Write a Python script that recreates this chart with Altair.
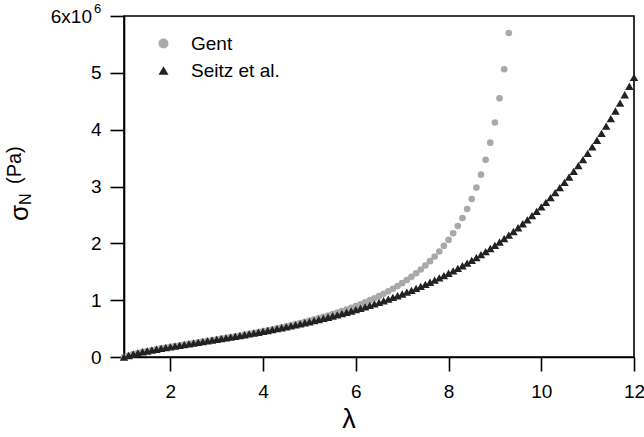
import altair as alt
import pandas as pd

# stretch ratio lambda (shared grid)
LAMBDA = [1.0, 1.1, 1.2, 1.3, 1.4, 1.5, 1.6, 1.7, 1.8, 1.9,
          2.0, 2.1, 2.2, 2.3, 2.4, 2.5, 2.6, 2.7, 2.8, 2.9,
          3.0, 3.1, 3.2, 3.3, 3.4, 3.5, 3.6, 3.7, 3.8, 3.9,
          4.0, 4.1, 4.2, 4.3, 4.4, 4.5, 4.6, 4.7, 4.8, 4.9,
          5.0, 5.1, 5.2, 5.3, 5.4, 5.5, 5.6, 5.7, 5.8, 5.9,
          6.0, 6.1, 6.2, 6.3, 6.4, 6.5, 6.6, 6.7, 6.8, 6.9,
          7.0, 7.1, 7.2, 7.3, 7.4, 7.5, 7.6, 7.7, 7.8, 7.9,
          8.0, 8.1, 8.2, 8.3, 8.4, 8.5, 8.6, 8.7, 8.8, 8.9,
          9.0, 9.1, 9.2, 9.3, 9.4, 9.5, 9.6, 9.7, 9.8, 9.9,
          10.0, 10.1, 10.2, 10.3, 10.4, 10.5, 10.6, 10.7, 10.8, 10.9,
          11.0, 11.1, 11.2, 11.3, 11.4, 11.5, 11.6, 11.7, 11.8, 11.9,
          12.0]

# nominal stress, units of 1e6 Pa (Gent series stops at lambda = 9.3)
GENT = [0.000, 0.027, 0.051, 0.071, 0.089, 0.106, 0.122, 0.137, 0.151, 0.165,
        0.179, 0.192, 0.205, 0.218, 0.231, 0.244, 0.257, 0.270, 0.283, 0.296,
        0.310, 0.323, 0.337, 0.351, 0.365, 0.379, 0.394, 0.409, 0.424, 0.439,
        0.455, 0.471, 0.488, 0.505, 0.523, 0.541, 0.559, 0.578, 0.598, 0.618,
        0.639, 0.661, 0.683, 0.706, 0.730, 0.755, 0.781, 0.808, 0.836, 0.865,
        0.896, 0.928, 0.961, 0.996, 1.033, 1.071, 1.112, 1.155, 1.200, 1.248,
        1.299, 1.354, 1.411, 1.473, 1.539, 1.610, 1.686, 1.768, 1.857, 1.955,
        2.060, 2.177, 2.305, 2.446, 2.604, 2.781, 2.981, 3.208, 3.469, 3.771,
        4.127, 4.551, 5.064, 5.700]

SEITZ = [0.000, 0.027, 0.051, 0.071, 0.089, 0.106, 0.122, 0.137, 0.151, 0.165,
         0.179, 0.192, 0.205, 0.218, 0.231, 0.244, 0.257, 0.270, 0.283, 0.296,
         0.309, 0.322, 0.336, 0.349, 0.363, 0.377, 0.391, 0.406, 0.420, 0.435,
         0.451, 0.466, 0.482, 0.498, 0.514, 0.531, 0.548, 0.566, 0.584, 0.602,
         0.621, 0.640, 0.659, 0.679, 0.700, 0.721, 0.742, 0.764, 0.787, 0.810,
         0.833, 0.858, 0.883, 0.908, 0.935, 0.962, 0.990, 1.018, 1.048, 1.078,
         1.109, 1.141, 1.173, 1.207, 1.242, 1.278, 1.315, 1.352, 1.392, 1.432,
         1.473, 1.516, 1.560, 1.605, 1.652, 1.700, 1.750, 1.801, 1.854, 1.909,
         1.965, 2.023, 2.083, 2.145, 2.209, 2.275, 2.344, 2.414, 2.487, 2.563,
         2.641, 2.721, 2.804, 2.891, 2.980, 3.072, 3.167, 3.266, 3.368, 3.474,
         3.584, 3.697, 3.814, 3.936, 4.062, 4.193, 4.328, 4.468, 4.614, 4.764,
         4.921]

SERIES = ["Gent", "Seitz et al."]
COLORS = ["#a9a9a9", "#222222"]
SHAPES = ["circle", "triangle-up"]
SIZES = [44, 72]
X_TICKS = [2, 4, 6, 8, 10, 12]
Y_TICKS = [0, 1, 2, 3, 4, 5, 6]

df_g = pd.DataFrame({"series": SERIES[0], "lam": LAMBDA[:len(GENT)], "sigma": GENT})
df_s = pd.DataFrame({"series": SERIES[1], "lam": LAMBDA, "sigma": SEITZ})

W, H = 510, 341
FONT = "Liberation Sans"

legend = alt.Legend(orient="none", legendX=30, legendY=18, title=None,
                    labelFont=FONT, labelFontSize=19, labelColor="black",
                    symbolSize=100, symbolStrokeWidth=0, padding=0,
                    rowPadding=7, labelOffset=18)

x_enc = alt.X("lam:Q", scale=alt.Scale(domain=[1, 12], nice=False, zero=False),
              axis=alt.Axis(values=X_TICKS, title=None, labelFlush=False,
                            labelOverlap=False, labelPadding=11))
y_enc = alt.Y("sigma:Q", scale=alt.Scale(domain=[0, 6], nice=False),
              axis=alt.Axis(values=Y_TICKS, title=None, labelPadding=9,
                            labelExpr="datum.value == 6 ? '' : datum.label"))
c_enc = alt.Color("series:N", scale=alt.Scale(domain=SERIES, range=COLORS), legend=legend)
s_enc = alt.Shape("series:N", scale=alt.Scale(domain=SERIES, range=SHAPES), legend=legend)

gent = alt.Chart(df_g).mark_point(filled=True, opacity=1, strokeWidth=0, size=SIZES[0]).encode(
    x=x_enc, y=y_enc, color=c_enc, shape=s_enc)
seitz = alt.Chart(df_s).mark_point(filled=True, opacity=1, strokeWidth=0, size=SIZES[1]).encode(
    x=x_enc, y=y_enc, color=c_enc, shape=s_enc)

one = pd.DataFrame({"a": [0]})

def label(text, x, y, size, **kw):
    return alt.Chart(one).mark_text(text=text, font=FONT, fontSize=size, color="black", **kw).encode(
        x=alt.value(x), y=alt.value(y))

top_lab = label("6x10", -32, 1, 19, align="right", baseline="middle")
top_sup = label("6", -30, -7, 13, align="left", baseline="middle")
sig = label("σ", -96, 205, 26, align="left", baseline="alphabetic", angle=270)
sub = label("N", -93, 189, 16, align="left", baseline="alphabetic", angle=270)
pa = label("(Pa)", -103, 168, 20, align="left", baseline="alphabetic", angle=270)
lam = label("λ", 225, 412, 27, align="center", baseline="alphabetic")

chart = alt.layer(gent, seitz, top_lab, top_sup, sig, sub, pa, lam).properties(
    width=W, height=H,
    autosize=alt.AutoSizeParams(type="none"),
    padding={"left": 124, "top": 16, "right": 10, "bottom": 80},
).configure_view(stroke="black", strokeWidth=1.6).configure_axis(
    labelFont=FONT, labelFontSize=19, labelColor="black",
    tickColor="black", domainColor="black", tickWidth=1.6, domainWidth=1.6,
    tickSize=14, grid=False,
)

chart.save("out.html", embed_options={"renderer": "svg", "actions": False})
